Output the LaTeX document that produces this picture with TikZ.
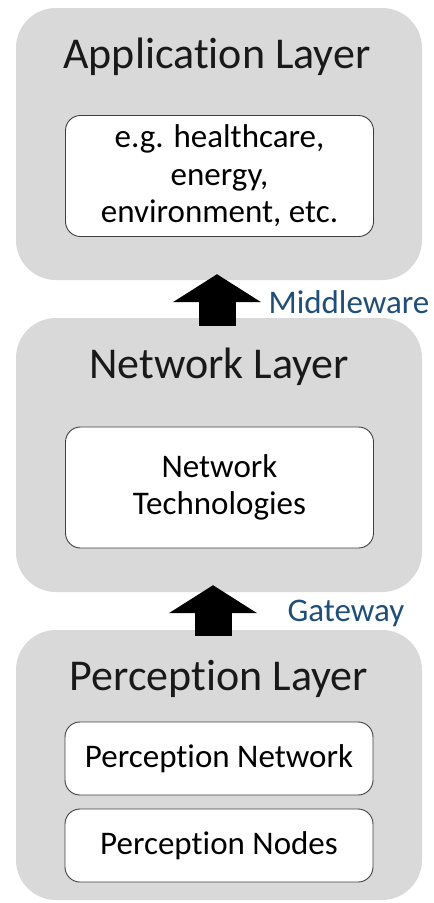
\documentclass[tikz,border=0pt]{standalone}
\usepackage{fontspec}
\setmainfont{Carlito}[Ligatures=NoCommon]
\usetikzlibrary{positioning, arrows.meta}
\definecolor{layergray}{RGB}{217,217,217}
\definecolor{labelblue}{RGB}{31,78,121}

\begin{document}
\begin{tikzpicture}[x=1pt, y=1pt,
      layerbox/.style={fill=layergray, rounded corners=40pt, minimum width=406pt},
      layertitle/.style={anchor=base, font=\fontsize{44}{48}\selectfont, text=black!90},
      innerbox/.style={draw=black!75, line width=0.9pt, fill=white, rounded corners=15pt,
        minimum width=308pt, align=center, font=\fontsize{33}{37.5}\selectfont},
      uparrow/.style={line width=37pt, -{Triangle[width=87pt, length=28pt]}},
      arrowlabel/.style={anchor=west, text=labelblue, font=\fontsize{33}{36}\selectfont}
    ]
    \useasboundingbox (0,0) rectangle (434,-903);
    % layers
    \node[layerbox, minimum height=272pt] (app) at (219,-144) {};
    \node[layerbox, minimum height=274pt] (net) at (219,-455) {};
    \node[layerbox, minimum height=270pt] (perc) at (219,-765) {};
    % titles
    \node[layertitle] (apptitle) at (217,-68) {Application Layer};
    \node[layertitle] (nettitle) at (219,-378) {Network Layer};
    \node[layertitle] (perctitle) at (219,-690) {Perception Layer};
    % contents
    \node[innerbox, minimum height=121pt] (appin) at (219.5,-176)
      {e.g. healthcare,\\energy,\\environment, etc.};
    \node[innerbox, minimum height=121pt] (netin) at (219.5,-487.5)
      {Network\\Technologies};
    \node[innerbox, minimum height=73pt] (percnet) at (219,-758.5) {Perception Network};
    \node[innerbox, minimum height=73pt] (percnodes) at (219,-845.5) {Perception Nodes};
    % links between layers
    \draw[uparrow] ([xshift=-2pt, yshift=-8pt]net.north) -- ([xshift=-2pt, yshift=6pt]app.south);
    \draw[uparrow] ([xshift=-6pt, yshift=-6pt]perc.north) -- ([xshift=-6pt, yshift=7pt]net.south);
    \node[arrowlabel] (mw) at (265,-302) {Middleware};
    \node[arrowlabel] (gw) at (284,-613) {Gateway};
  \end{tikzpicture}
\end{document}
